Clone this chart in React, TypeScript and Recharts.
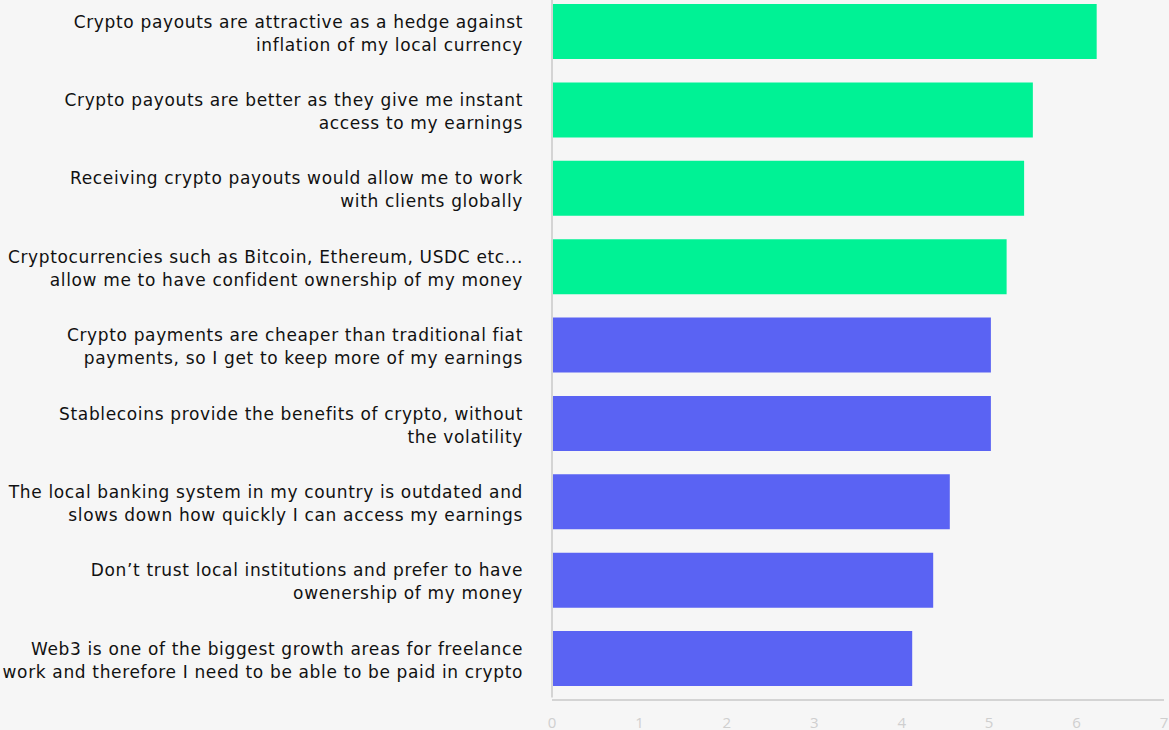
import React from "react";
import { BarChart, Bar, XAxis, YAxis, Cell } from "recharts";

const categories: string[] = [
  "Crypto payouts are attractive as a hedge against\ninflation of my local currency",
  "Crypto payouts are better as they give me instant\naccess to my earnings",
  "Receiving crypto payouts would allow me to work\nwith clients globally",
  "Cryptocurrencies such as Bitcoin, Ethereum, USDC etc...\nallow me to have confident ownership of my money",
  "Crypto payments are cheaper than traditional fiat\npayments, so I get to keep more of my earnings",
  "Stablecoins provide the benefits of crypto, without\nthe volatility",
  "The local banking system in my country is outdated and\nslows down how quickly I can access my earnings",
  "Don\u2019t trust local institutions and prefer to have\nowenership of my money",
  "Web3 is one of the biggest growth areas for freelance\nwork and therefore I need to be able to be paid in crypto",
];

const values: number[] = [6.23, 5.5, 5.4, 5.2, 5.02, 5.02, 4.55, 4.36, 4.12];

const highlighted: boolean[] = [true, true, true, true, false, false, false, false, false];

const xTicks: number[] = [0, 1, 2, 3, 4, 5, 6, 7];

const GREEN = "#00F295";
const BLUE = "#5A63F3";
const FONT = "'DejaVu Sans', sans-serif";

const data = categories.map((c, i) => ({ name: c, value: values[i], hi: highlighted[i] }));

const YTick = (props: any) => {
  const { x, y, payload } = props;
  const lines = String(payload.value).split("\n");
  return (
    <text
      x={x}
      y={y}
      textAnchor="end"
      fill="#111"
      fontSize={17}
      letterSpacing={0.65}
      fontFamily={FONT}
    >
      {lines.map((l: string, i: number) => (
        <tspan key={i} x={x} y={y - 3.5 + i * 23}>
          {l}
        </tspan>
      ))}
    </text>
  );
};

const XTick = (props: any) => {
  const { x, y, payload } = props;
  return (
    <text x={x} y={y + 22} textAnchor="middle" fill="#cfcfcf" fontSize={15} fontFamily="'Open Sans', sans-serif">
      {payload.value}
    </text>
  );
};

export default function App() {
  return (
    <div style={{ position: "absolute", left: 0, top: 0, width: 1169, height: 730, background: "#f6f6f6", overflow: "hidden" }}>
      <BarChart
        width={1169}
        height={730}
        data={data}
        layout="vertical"
        margin={{ top: -8, right: 5, bottom: 0, left: 0 }}
        barCategoryGap={23}
      >
        <XAxis
          type="number"
          domain={[0, 7]}
          ticks={xTicks}
          height={32.5}
          axisLine={{ stroke: "#d4d4d4", strokeWidth: 2, transform: "translate(0,2.5)" } as any}
          tickLine={false}
          tick={<XTick />}
          interval={0}
        />
        <YAxis
          type="category"
          dataKey="name"
          width={552}
          axisLine={{ stroke: "#d4d4d4", strokeWidth: 2 }}
          tickLine={false}
          tick={<YTick />}
          tickMargin={23}
          interval={0}
        />
        <Bar dataKey="value" barSize={55} isAnimationActive={false}>
          {data.map((d, i) => (
            <Cell key={i} fill={d.hi ? GREEN : BLUE} />
          ))}
        </Bar>
      </BarChart>
    </div>
  );
}
